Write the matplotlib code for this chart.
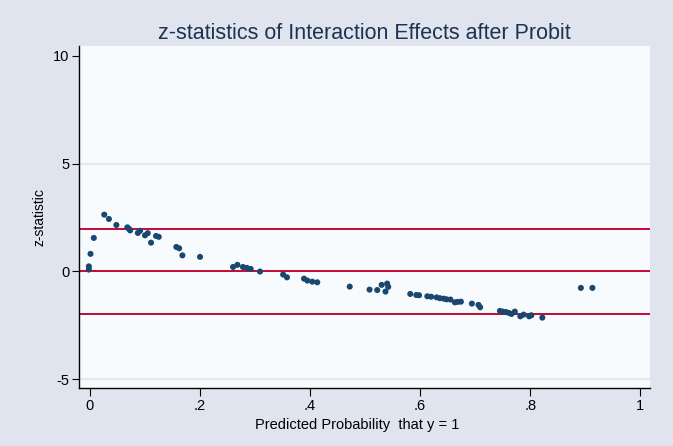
import matplotlib
matplotlib.use("Agg")
import matplotlib.pyplot as plt

# Data
prob = [-0.002, -0.002, 0.001, 0.007, 0.026, 0.0345, 0.048, 0.068, 0.071, 0.073,
        0.087, 0.091, 0.100, 0.105, 0.111, 0.120, 0.125, 0.157, 0.162, 0.168,
        0.200, 0.260, 0.268, 0.278, 0.285, 0.292, 0.309, 0.351, 0.358, 0.389,
        0.395, 0.404, 0.413, 0.472, 0.508, 0.522, 0.530, 0.540, 0.542, 0.537,
        0.582, 0.593, 0.598, 0.613, 0.620, 0.630, 0.636, 0.643, 0.648, 0.655,
        0.663, 0.668, 0.674, 0.694, 0.706, 0.709, 0.745, 0.750, 0.756, 0.761,
        0.766, 0.772, 0.782, 0.788, 0.798, 0.802, 0.822, 0.892, 0.913]
zstat = [0.23, 0.08, 0.81, 1.55, 2.63, 2.43, 2.15, 2.04, 1.97, 1.90,
         1.78, 1.88, 1.67, 1.77, 1.33, 1.64, 1.60, 1.13, 1.07, 0.74,
         0.67, 0.20, 0.30, 0.20, 0.16, 0.11, -0.01, -0.15, -0.28, -0.34,
         -0.43, -0.48, -0.51, -0.71, -0.85, -0.87, -0.63, -0.57, -0.72, -0.94,
         -1.05, -1.10, -1.11, -1.16, -1.18, -1.21, -1.25, -1.27, -1.30, -1.31,
         -1.44, -1.42, -1.41, -1.50, -1.56, -1.67, -1.84, -1.87, -1.89, -1.93,
         -1.98, -1.87, -2.09, -2.01, -2.09, -2.04, -2.15, -0.77, -0.77]
ref_lines = [1.96, 0, -1.96]
grid_lines = [-5, 0, 5]
xticks = [0, 0.2, 0.4, 0.6, 0.8, 1.0]
xticklabels = ["0", ".2", ".4", ".6", ".8", "1"]
yticks = [-5, 0, 5, 10]
yticklabels = ["-5", "0", "5", "10"]

plt.rcParams['font.family'] = ['Liberation Sans', 'DejaVu Sans']

fig = plt.figure(figsize=(6.73, 4.46), dpi=100)
fig.patch.set_facecolor('#dfe4ee')
ax = fig.add_axes([0.1178, 0.1294, 0.848, 0.7675])
ax.set_facecolor('#f8fbfd')

ax.set_xlim(-0.0194, 1.0176)
ax.set_ylim(-5.43, 10.46)

for y in grid_lines:
    ax.axhline(y, color='#e4e9ef', lw=1.6, zorder=1)
for y in ref_lines:
    ax.axhline(y, color='#c20a35', lw=1.4, zorder=2)

ax.scatter(prob, zstat, s=19, color='#1a476f', edgecolors='none', zorder=3)

for s in ['top', 'right']:
    ax.spines[s].set_visible(False)
for s in ['left', 'bottom']:
    ax.spines[s].set_color('black')
    ax.spines[s].set_linewidth(1.0)

ax.set_xticks(xticks)
ax.set_xticklabels(xticklabels)
ax.set_yticks(yticks)
ax.set_yticklabels(yticklabels)
ax.tick_params(axis='x', direction='out', length=6, width=0.8, labelsize=10.5, pad=2)
ax.tick_params(axis='y', direction='out', length=5, width=0.8, labelsize=10.5, pad=2)

ax.set_xlabel('Predicted Probability  that y = 1', fontsize=10.5, labelpad=-1)
ax.xaxis.set_label_coords(0.487, -0.088)
ax.set_ylabel('z-statistic', fontsize=10)
ax.yaxis.set_label_coords(-0.058, 0.5)
fig.text(0.542, 0.926, 'z-statistics of Interaction Effects after Probit',
         ha='center', va='center', fontsize=15.5, color='#1e3252')

fig.savefig('out.png', dpi=100, facecolor=fig.get_facecolor())
